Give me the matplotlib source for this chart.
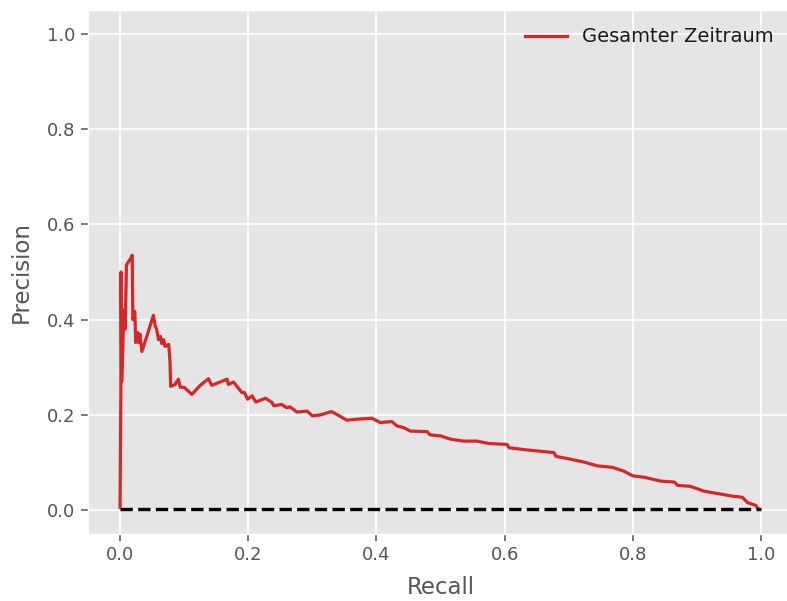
import matplotlib
matplotlib.use("Agg")
import matplotlib.pyplot as plt

plt.style.use("ggplot")

recall = [0.000, 0.0005, 0.0012, 0.0016, 0.0025, 0.004, 0.006, 0.008, 0.010, 0.015,
          0.019, 0.020, 0.023, 0.0245, 0.027, 0.029, 0.031, 0.034, 0.043, 0.052,
          0.055, 0.057, 0.060, 0.063, 0.065, 0.068, 0.070, 0.076, 0.078, 0.079,
          0.086, 0.091, 0.094, 0.100, 0.112, 0.125, 0.138, 0.143, 0.167, 0.169,
          0.177, 0.190, 0.194, 0.199, 0.206, 0.212, 0.227, 0.237, 0.240, 0.252,
          0.260, 0.265, 0.276, 0.292, 0.300, 0.3125, 0.330, 0.338, 0.354, 0.370,
          0.393, 0.406, 0.424, 0.432, 0.443, 0.453, 0.479, 0.484, 0.500, 0.516,
          0.536, 0.557, 0.575, 0.604, 0.607, 0.638, 0.677, 0.680, 0.703, 0.724,
          0.745, 0.768, 0.786, 0.800, 0.818, 0.844, 0.865, 0.870, 0.890, 0.911,
          0.932, 0.953, 0.971, 0.979, 0.992, 0.995]
precision = [0.006, 0.10, 0.25, 0.50, 0.27, 0.33, 0.42, 0.38, 0.515, 0.525,
             0.535, 0.40, 0.417, 0.352, 0.373, 0.352, 0.370, 0.333, 0.37, 0.409,
             0.386, 0.380, 0.358, 0.365, 0.350, 0.358, 0.344, 0.348, 0.310, 0.260,
             0.264, 0.275, 0.258, 0.258, 0.243, 0.262, 0.276, 0.262, 0.275, 0.264,
             0.269, 0.247, 0.247, 0.233, 0.240, 0.227, 0.235, 0.226, 0.219, 0.222,
             0.215, 0.217, 0.206, 0.208, 0.198, 0.200, 0.207, 0.201, 0.189, 0.191,
             0.193, 0.184, 0.186, 0.177, 0.173, 0.166, 0.165, 0.158, 0.156, 0.149,
             0.145, 0.145, 0.140, 0.138, 0.131, 0.126, 0.121, 0.113, 0.107, 0.101,
             0.093, 0.090, 0.082, 0.072, 0.069, 0.061, 0.059, 0.052, 0.050, 0.040,
             0.035, 0.030, 0.027, 0.016, 0.010, 0.004]

baseline_x = [0.0, 1.0]
baseline_y = [0.002, 0.002]
xticks = [0.0, 0.2, 0.4, 0.6, 0.8, 1.0]
yticks = [0.0, 0.2, 0.4, 0.6, 0.8, 1.0]

fig = plt.figure(figsize=(7.87, 6.01), dpi=100)
ax = fig.add_axes([88 / 787, (601 - 534) / 601, 705 / 787, 524 / 601])

ax.plot(recall, precision, color="#d62728", lw=2.3, label="Gesamter Zeitraum")
ax.plot(baseline_x, baseline_y, color="black", lw=2.4, ls=(0, (3.7, 1.6)))

ax.set_xlim(-0.05, 1.05)
ax.set_ylim(-0.05, 1.05)
ax.set_xticks(xticks)
ax.set_yticks(yticks)
ax.tick_params(labelsize=13, length=5, width=1.1, colors="#555555", pad=4)
ax.set_xlabel("Recall", fontsize=16.5, color="#555555", labelpad=8)
ax.set_ylabel("Precision", fontsize=16.5, color="#555555", labelpad=10)
ax.grid(True, color="white", lw=1.2)

leg = ax.legend(loc="upper right", frameon=False, fontsize=14,
                bbox_to_anchor=(0.997, 1.0), handlelength=2.15, handletextpad=0.77)
for t in leg.get_texts():
    t.set_color("#1a1a1a")

fig.savefig("out.png", dpi=100)
